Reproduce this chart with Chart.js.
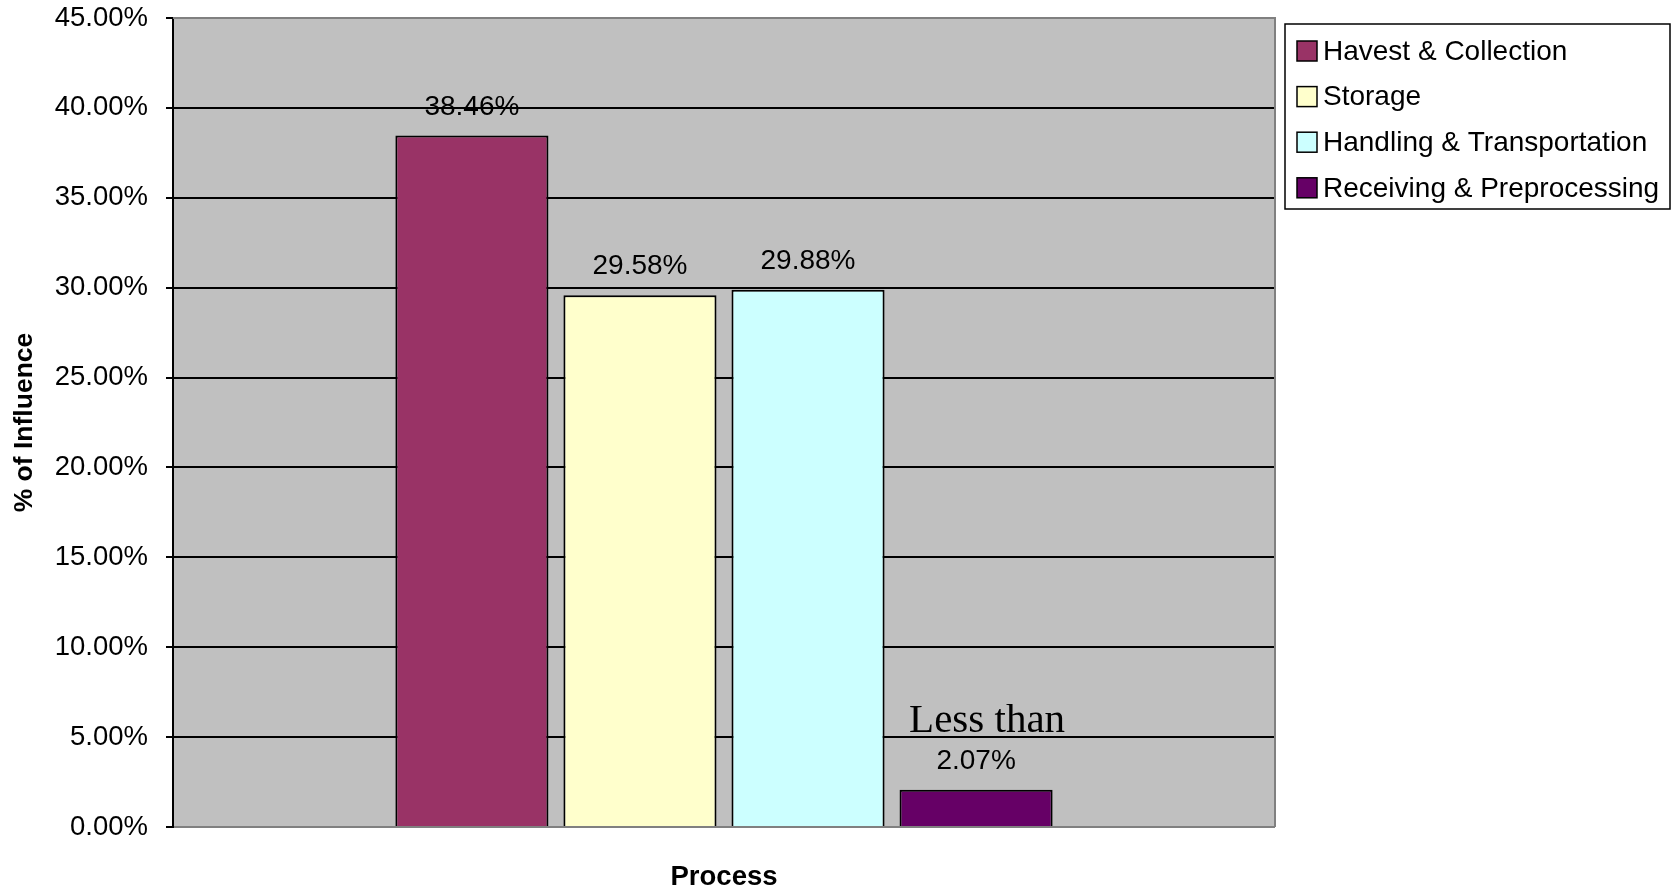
<!DOCTYPE html>
<html>
<head>
<meta charset="utf-8">
<script src="https://cdn.jsdelivr.net/npm/chart.js@4/dist/chart.umd.min.js"></script>
<style>
  body { margin: 0; background: #fff; }
  canvas { display: block; }
</style>
</head>
<body>
<canvas id="bar-chart" width="1675" height="891"></canvas>
<script>
// data
var processen = ["Havest & Collection", "Storage", "Handling & Transportation", "Receiving & Preprocessing"];
var invloed = [38.46, 29.58, 29.88, 2.07];
var kleuren = ["#993366", "#ffffcc", "#ccffff", "#660066"];
var yTicks = [0, 5, 10, 15, 20, 25, 30, 35, 40, 45];
var notitie = "Less than"; // extra remark above the last bar

// plot area grey + border, labels, legend
var tekenExtra = {
  id: 'tekenExtra',
  beforeDraw: function(chart) {
    var c = chart.ctx, a = chart.chartArea;
    c.save();
    c.fillStyle = '#c0c0c0';
    c.fillRect(a.left, a.top, a.right - a.left, a.bottom - a.top);
    c.restore();
  },
  afterDatasetsDraw: function(chart) {
    var c = chart.ctx, a = chart.chartArea;
    c.save();
    c.strokeStyle = '#808080';
    c.lineWidth = 2;
    c.beginPath();
    c.moveTo(a.left, a.top);
    c.lineTo(a.right, a.top);
    c.lineTo(a.right, a.bottom);
    c.stroke();

    // value labels
    c.fillStyle = '#000';
    c.font = '28px Arial, "Liberation Sans"';
    c.textAlign = 'center';
    c.textBaseline = 'alphabetic';
    chart.data.datasets.forEach(function(ds, i) {
      var bar = chart.getDatasetMeta(i).data[0];
      c.fillText(ds.data[0].toFixed(2) + '%', bar.x, bar.y - 21);
    });

    // "Less than" above the smallest bar
    var laatste = chart.getDatasetMeta(chart.data.datasets.length - 1).data[0];
    c.font = '41px "Times New Roman", "Liberation Serif"';
    c.fillText(notitie, laatste.x + 11, laatste.y - 58);

    // legend
    var lx = a.right + 10, ly = 24, lw = 385, lh = 185;
    c.fillStyle = '#fff';
    c.fillRect(lx, ly, lw, lh);
    c.strokeStyle = '#000';
    c.lineWidth = 1.5;
    c.strokeRect(lx, ly, lw, lh);
    c.font = '28px Arial, "Liberation Sans"';
    c.textAlign = 'left';
    c.textBaseline = 'middle';
    chart.data.datasets.forEach(function(ds, i) {
      var y = ly + 27 + i * 45.6;
      c.fillStyle = ds.backgroundColor;
      c.fillRect(lx + 12, y - 10, 20, 20);
      c.strokeStyle = '#000';
      c.lineWidth = 1.5;
      c.strokeRect(lx + 12, y - 10, 20, 20);
      c.fillStyle = '#000';
      c.fillText(ds.label, lx + 38, y + 1);
    });
    c.restore();
  }
};

new Chart(document.getElementById("bar-chart"), {
  type: 'bar',
  data: {
    labels: [""],
    datasets: processen.map(function(naam, i) {
      return {
        label: naam,
        data: [invloed[i]],
        backgroundColor: kleuren[i],
        borderColor: '#000',
        borderWidth: 2,
        categoryPercentage: 0.61,
        barPercentage: 0.911
      };
    })
  },
  options: {
    responsive: false,
    animation: false,
    devicePixelRatio: 1,
    layout: { padding: { top: 18, right: 400, bottom: 0, left: 0 } },
    plugins: {
      legend: { display: false },
      tooltip: { enabled: false }
    },
    scales: {
      x: {
        grid: { display: false },
        border: { display: false },
        ticks: { display: false },
        title: {
          display: true,
          text: 'Process',
          color: '#000',
          font: { family: 'Arial, "Liberation Sans"', size: 27.5, weight: 'bold', lineHeight: 1 },
          padding: { top: 0, bottom: 0 }
        },
        afterFit: function(s) { s.height = 64; }
      },
      y: {
        min: 0,
        max: 45,
        afterBuildTicks: function(s) {
          s.ticks = yTicks.map(function(v) { return { value: v }; });
        },
        ticks: {
          color: '#000',
          padding: 18,
          font: { family: 'Arial, "Liberation Sans"', size: 27.5 },
          callback: function(v) { return v.toFixed(2) + '%'; }
        },
        grid: {
          lineWidth: 2,
          tickLength: 7,
          tickColor: '#000',
          color: function(ctx) {
            var v = ctx.tick ? ctx.tick.value : 0;
            return (v === 0 || v === 45) ? '#808080' : '#000';
          }
        },
        border: { color: '#000', width: 2 },
        title: {
          display: true,
          text: '% of Influence',
          color: '#000',
          font: { family: 'Arial, "Liberation Sans"', size: 26.5, weight: 'bold', lineHeight: 1 },
          padding: { top: 11, bottom: 0 }
        },
        afterFit: function(s) {
          s.width = 173;
          s.paddingTop = 0;
          s.paddingBottom = 0;
        }
      }
    }
  },
  plugins: [tekenExtra]
});
</script>
</body>
</html>
